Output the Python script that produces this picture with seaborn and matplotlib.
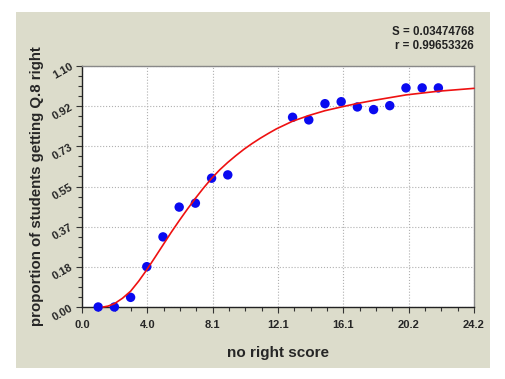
import numpy as np
import pandas as pd
import seaborn as sns
import matplotlib.pyplot as plt
from matplotlib.patches import Rectangle
from matplotlib.ticker import AutoMinorLocator

# observed points
score = [1, 2, 3, 4, 5, 6, 7, 8, 9, 13, 14, 15, 16, 17, 18, 19, 20, 21, 22]
prop = [0.0, 0.0, 0.044, 0.184, 0.32, 0.456, 0.474, 0.588, 0.603,
        0.866, 0.854, 0.928, 0.937, 0.913, 0.901, 0.919, 1.0, 1.0, 1.0]

# fitted curve
fit_x = [1.3, 1.6, 2.0, 2.5, 3.0, 3.5, 4.0, 4.5, 5.0, 5.5, 6.0, 6.5, 7.0, 7.5, 8.0,
         8.5, 9.0, 9.5, 10.0, 10.5, 11.0, 11.5, 12.0, 13.0, 14.0, 15.0, 16.0, 17.0,
         18.0, 20.0, 22.0, 24.2]
fit_y = [0.0, 0.004, 0.015, 0.04, 0.072, 0.118, 0.17, 0.226, 0.283, 0.34, 0.394, 0.446,
         0.496, 0.543, 0.587, 0.626, 0.66, 0.691, 0.72, 0.746, 0.77, 0.792, 0.813,
         0.848, 0.874, 0.896, 0.913, 0.929, 0.943, 0.968, 0.985, 0.998]

xtick_labels = ["0.0", "4.0", "8.1", "12.1", "16.1", "20.2", "24.2"]
ytick_labels = ["0.00", "0.18", "0.37", "0.55", "0.73", "0.92", "1.10"]

stats_text = ["S = 0.03474768", "r = 0.99653326"]

sns.set_style("white")
plt.rcParams['font.family'] = ['Liberation Sans', 'DejaVu Sans']
plt.rcParams['font.weight'] = 'bold'

fig = plt.figure(figsize=(5.06, 3.79), dpi=100)
fig.patch.set_facecolor('white')
fig.patches.append(Rectangle((16 / 506, 1 - 368 / 379), 474 / 506, 356 / 379,
                             transform=fig.transFigure, facecolor='#dcdccb',
                             edgecolor='none', zorder=-10))

ax = fig.add_axes([82 / 506, 1 - 307 / 379, 392 / 506, 241 / 379])
ax.set_facecolor('white')

pts = pd.DataFrame({'score': score, 'prop': prop})
curve = pd.DataFrame({'x': fit_x, 'y': fit_y})

sns.scatterplot(data=pts, x='score', y='prop', ax=ax, color='#0a0af0', s=46,
                edgecolor='none', clip_on=False, zorder=3)
sns.lineplot(data=curve, x='x', y='y', ax=ax, color='#ee1111', linewidth=1.2,
             zorder=4, clip_on=False)

ax.set_xlim(0, 24.2)
ax.set_ylim(0, 1.1)
ax.set_xticks(np.linspace(0, 24.2, len(xtick_labels)))
ax.set_xticklabels(xtick_labels, fontsize=8, fontweight='bold')
ax.set_yticks(np.linspace(0, 1.1, len(ytick_labels)))
ax.set_yticklabels(ytick_labels, fontsize=8, fontweight='bold', rotation=30,
                   ha='right', va='center', rotation_mode='anchor')
ax.xaxis.set_minor_locator(AutoMinorLocator(4))
ax.yaxis.set_minor_locator(AutoMinorLocator(4))
ax.tick_params(which='both', direction='out', color='#333333', width=0.8)
ax.tick_params(which='major', length=4)
ax.tick_params(which='minor', length=3)
ax.tick_params(axis='x', which='major', pad=5)
ax.tick_params(axis='y', which='major', pad=3)
ax.tick_params(axis='x', which='both', bottom=True)
ax.tick_params(axis='y', which='both', left=True)

ax.grid(True, which='major', linestyle=':', color='#b0b0b0', linewidth=0.8)
ax.set_axisbelow(True)

for side in ['left', 'bottom']:
    ax.spines[side].set_color('#222222')
    ax.spines[side].set_linewidth(1.0)
for side in ['top', 'right']:
    ax.spines[side].set_color('#888888')
    ax.spines[side].set_linewidth(1.0)

ax.set_xlabel('no right score', fontsize=11, fontweight='bold', labelpad=12)
ax.set_ylabel('proportion of students getting Q.8 right', fontsize=10.8,
              fontweight='bold', labelpad=5)

fig.text(474 / 506, 1 - 32 / 379, stats_text[0], ha='right', va='center',
         fontsize=8.3, fontweight='bold', color='#222222')
fig.text(474 / 506, 1 - 46 / 379, stats_text[1], ha='right', va='center',
         fontsize=8.3, fontweight='bold', color='#222222')

fig.savefig('out.png', dpi=100, facecolor='white')
